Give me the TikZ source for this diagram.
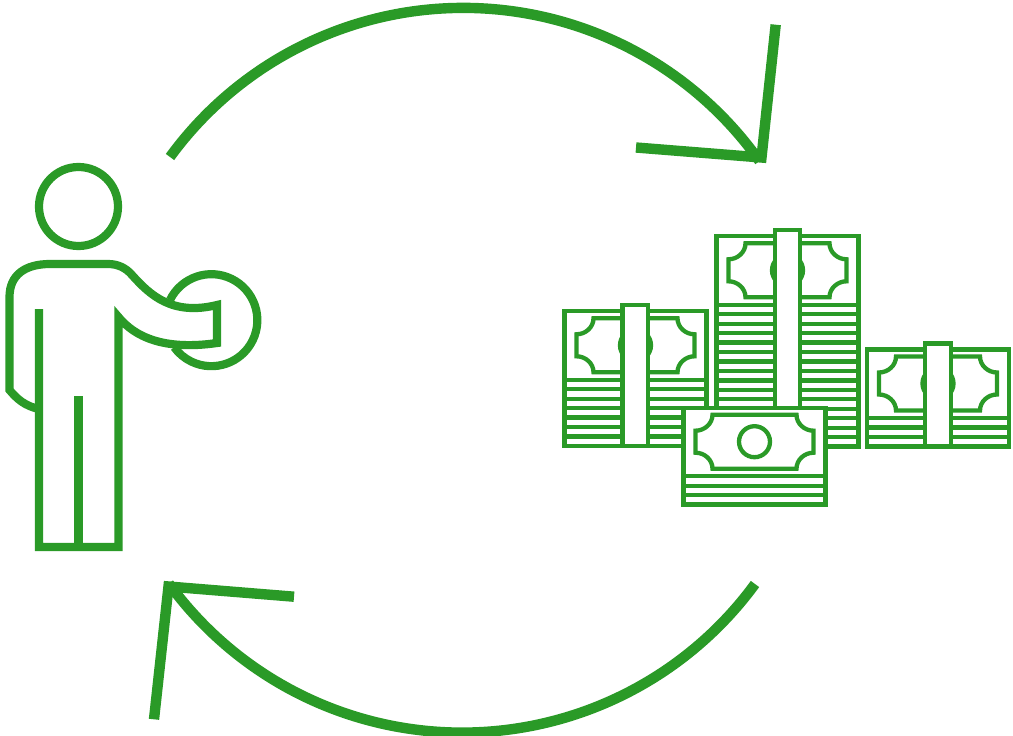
\documentclass[tikz,border=0pt]{standalone}
\definecolor{moneygreen}{RGB}{42,154,39}
\tikzset{
    outline/.style={draw=moneygreen, line width=8.2pt, miter limit=20},
    sweep/.style={draw=moneygreen, line width=10.4pt, miter limit=20},
    billline/.style={draw=moneygreen, line width=4.3pt}
}
\newcommand{\moneystack}[3]{
    \begin{scope}[shift={(#1,#2)}]
        \draw[billline, fill=white] (-71,-34) rectangle (71,{34.5+(#3-1)*9.45});
        \foreach \i in {1,...,#3} {
            \draw[billline] (-71,{34.5+(\i-1)*9.45}) -- (71,{34.5+(\i-1)*9.45});
        }
        \draw[billline] (-42,-27) -- (42,-27)
            .. controls (42,-18) and (50,-11) .. (59,-11) -- (59,11)
            .. controls (50,11) and (42,18) .. (42,27) -- (-42,27)
            .. controls (-42,18) and (-50,11) .. (-59,11) -- (-59,-11)
            .. controls (-50,-11) and (-42,-18) .. (-42,-27) -- cycle;
        \draw[billline] (0,0) circle (15.5);
    \end{scope}
}
\newcommand{\moneyband}[3]{
    \draw[billline, fill=white] (#1-12.8,#2-40) rectangle (#1+12.8,#3);
}
\begin{document}
\begin{tikzpicture}[x=1pt, y=-1pt]
    \useasboundingbox (0,0) rectangle (1013,736);

    \coordinate (topstart) at (170,157);
    \coordinate (toptip) at (761.5,157.5);
    \coordinate (topbarb) at (636,147.5);
    \coordinate (topfeather) at (775.7,24.7);
    \coordinate (lowstart) at (755,584);
    \coordinate (lowtip) at (168.5,586.5);
    \coordinate (lowbarb) at (294,596.7);
    \coordinate (lowfeather) at (154,719.3);

    \draw[sweep] (topstart) arc (216.1:324.7:363);
    \draw[sweep] (topbarb) -- (toptip) -- (topfeather);
    \draw[sweep] (lowstart) arc (36.2:143.9:363);
    \draw[sweep] (lowbarb) -- (lowtip) -- (lowfeather);

    \draw[outline] (78.5,206.5) circle (39.5);
    \draw[outline] (170,300) arc (206:504:46);
    \draw[outline] (39,409) .. controls (25,406) and (17,399) .. (9.5,390)
        -- (9.5,297) .. controls (9.5,275) and (25,264) .. (50,264)
        -- (108,264) .. controls (118,264) and (126,268) .. (132,275)
        .. controls (150,295) and (172,316) .. (217,305)
        -- (217,343) .. controls (175,349) and (140,343) .. (118.5,317)
        -- (118.5,547) -- (39,547) -- (39,309);
    \draw[outline] (78.5,396) -- (78.5,547);

    \moneystack{635.5}{345.3}{8}
    \moneyband{635.3}{345.3}{446}
    \moneystack{787.5}{270.3}{16}
    \moneyband{787.5}{270.3}{446}
    \moneystack{938}{383.5}{4}
    \moneyband{938}{383.5}{446}
    \moneystack{754.5}{441.7}{4}
\end{tikzpicture}
\end{document}
